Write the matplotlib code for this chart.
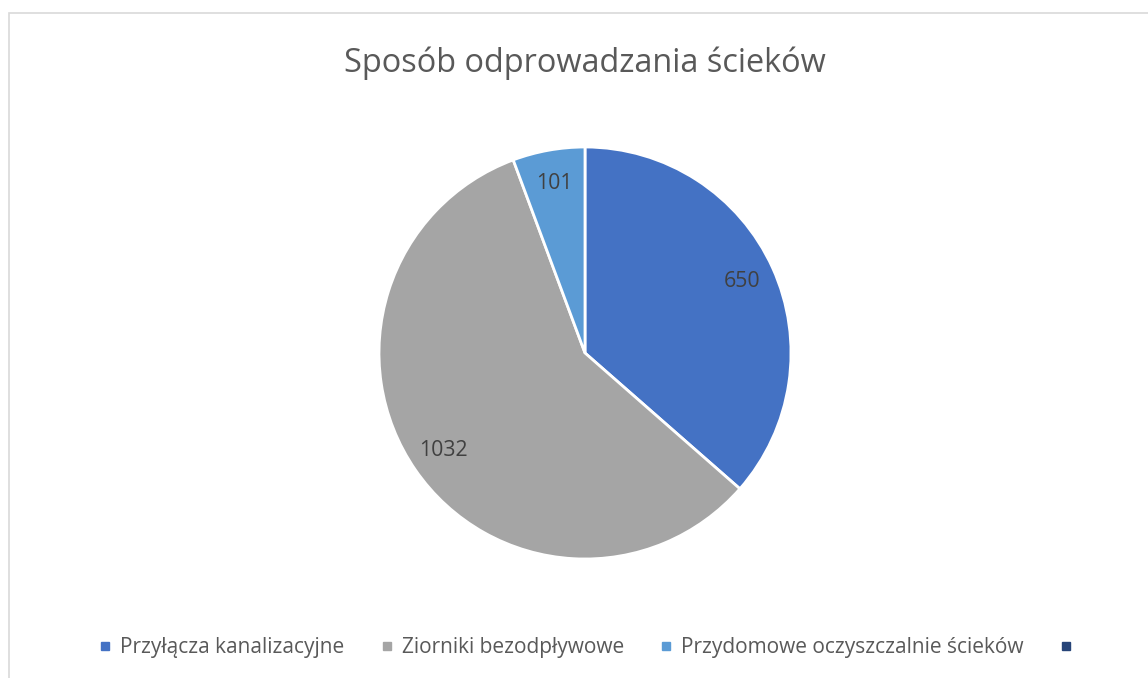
import matplotlib
matplotlib.use("Agg")
import matplotlib.pyplot as plt
from matplotlib.lines import Line2D
from matplotlib.patches import Rectangle

title = "Sposób odprowadzania ścieków"
categories = ["Przyłącza kanalizacyjne", "Ziorniki bezodpływowe",
              "Przydomowe oczyszczalnie ścieków", ""]
values = [650, 1032, 101]
colors = ["#4472C4", "#A5A5A5", "#5B9BD5", "#264478"]

W, H = 1148, 678
fig = plt.figure(figsize=(W / 100, H / 100), dpi=100)
plt.rcParams['font.family'] = ['Open Sans', 'DejaVu Sans']

# chart frame (extends beyond right/bottom edge)
fig.patches.append(Rectangle((8.5 / W, -0.1), 1.2, 1 - 12.5 / H + 0.1,
                             transform=fig.transFigure, fill=False,
                             edgecolor="#D9D9D9", linewidth=1.2))

cx, cy, r = 585, 678 - 353, 206
m = 1.1
ax = fig.add_axes([(cx - r * m) / W, (cy - r * m) / H, 2 * r * m / W, 2 * r * m / H])
wedges, texts = ax.pie(values, colors=colors[:3], startangle=90, counterclock=False,
                       labels=[str(v) for v in values], labeldistance=0.835,
                       wedgeprops=dict(edgecolor="white", linewidth=2),
                       textprops=dict(color="#404040", fontsize=15.3))
for t in texts:
    t.set_ha("center")
    t.set_va("center")
ax.set_xlim(-m, m)
ax.set_ylim(-m, m)
ax.set_aspect("equal")
ax.axis("off")

fig.text(cx / W, 1 - 63 / H, title, ha="center", va="center",
         fontsize=23.4, color="#595959")

handles = [Line2D([], [], marker="s", linestyle="", color=c, markersize=5.5)
           for c in colors]
fig.legend(handles=handles, labels=categories, ncol=4, loc="center",
           bbox_to_anchor=(590 / W, 1 - 648 / H), frameon=False,
           fontsize=15, labelcolor="#595959", handlelength=0.6,
           handletextpad=0.42, columnspacing=1.72)

fig.savefig("out.png", dpi=100, facecolor="white")
